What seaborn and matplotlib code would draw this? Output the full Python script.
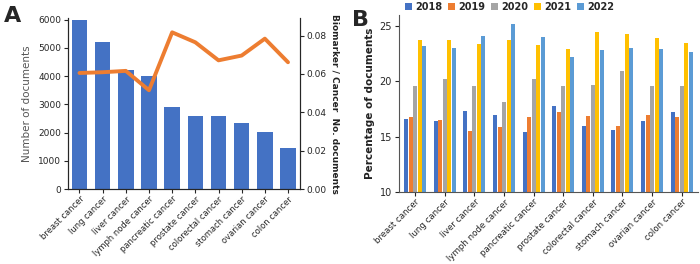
import matplotlib.pyplot as plt
import matplotlib
import seaborn as sns
import numpy as np
import pandas as pd

cancers = ['breast cancer', 'lung cancer', 'liver cancer', 'lymph node cancer',
           'pancreatic cancer', 'prostate cancer', 'colorectal cancer',
           'stomach cancer', 'ovarian cancer', 'colon cancer']
n_docs = [6000, 5200, 4220, 4020, 2900, 2570, 2570, 2330, 2020, 1460]
ratio = [0.0605, 0.0609, 0.0616, 0.0515, 0.0817, 0.0765, 0.0671, 0.0696, 0.0784, 0.0661]

years = ['2018', '2019', '2020', '2021', '2022']
pct_2018 = [16.6, 16.4, 17.3, 17.0, 15.4, 17.8, 16.0, 15.6, 16.4, 17.2]
pct_2019 = [16.8, 16.5, 15.5, 15.9, 16.8, 17.2, 16.9, 16.0, 17.0, 16.8]
pct_2020 = [19.6, 20.2, 19.6, 18.1, 20.2, 19.6, 19.7, 20.9, 19.6, 19.6]
pct_2021 = [23.7, 23.7, 23.4, 23.7, 23.3, 22.9, 24.5, 24.3, 23.9, 23.5]
pct_2022 = [23.2, 23.0, 24.1, 25.2, 24.0, 22.2, 22.8, 23.0, 22.9, 22.7]

sns.set_style('ticks')
matplotlib.rc('font', family=['DejaVu Sans'], size=6.5)

blue = '#4472C4'
orange = '#ED7D31'
year_colors = ['#4472C4', '#ED7D31', '#A5A5A5', '#FFC000', '#5B9BD5']

fig = plt.figure(figsize=[7, 2.64], dpi=100)

# ---- panel A
ax = fig.add_axes([0.097, 0.284, 0.331, 0.648])
sns.barplot(x=cancers, y=n_docs, color=blue, width=0.67, saturation=1,
            linewidth=0, ax=ax)
ax.set_ylim(0, 6060)
ax.set_yticks([0, 1000, 2000, 3000, 4000, 5000, 6000])
ax.set_ylabel('Number of documents', color='#555555', fontsize=7.5)
ax.tick_params(axis='x', rotation=45, labelsize=6, length=3, pad=1)
ax.tick_params(axis='y', labelsize=6.5, length=3, pad=2)
for lab in ax.get_xticklabels():
    lab.set_ha('right')
    lab.set_rotation_mode('anchor')
ax.set_xlim(-0.5, len(cancers) - 0.5)
sns.despine(ax=ax, right=False)

ax2 = ax.twinx()
sns.lineplot(x=np.arange(len(cancers)), y=ratio, color=orange, lw=2.8, ax=ax2)
ax2.set_ylim(0, 0.0892)
ax2.set_yticks([0, 0.02, 0.04, 0.06, 0.08])
ax2.set_yticklabels(['0.00', '0.02', '0.04', '0.06', '0.08'])
ax2.tick_params(axis='y', labelsize=6.5, length=3, pad=2)
ax2.set_ylabel('Biomarker / Cancer  No. documents', rotation=270, labelpad=9,
               fontsize=6.5, fontweight='bold', color='#222222')
ax2.spines['top'].set_visible(False)
fig.text(0.005, 0.915, 'A', fontsize=16, fontweight='bold')

# ---- panel B
df = pd.DataFrame({'cancer': cancers * 5,
                   'year': sum([[y] * len(cancers) for y in years], []),
                   'pct': pct_2018 + pct_2019 + pct_2020 + pct_2021 + pct_2022})
bx = fig.add_axes([0.57, 0.273, 0.427, 0.67])
sns.barplot(data=df, x='cancer', y='pct', hue='year', palette=year_colors,
            saturation=1, width=0.76, gap=0.12, linewidth=0, ax=bx)
bx.set_ylim(10, 26)
bx.set_yticks([10, 15, 20, 25])
bx.set_xlim(-0.55, len(cancers) - 0.45)
bx.set_xlabel('')
bx.set_ylabel('Percentage of documents', fontsize=7.5, fontweight='bold',
              color='#222222', labelpad=3)
bx.tick_params(axis='x', rotation=45, labelsize=6.2, length=3, pad=1)
bx.tick_params(axis='y', labelsize=7, length=3, pad=2)
for lab in bx.get_xticklabels():
    lab.set_ha('right')
    lab.set_rotation_mode('anchor')
for s in ['left', 'bottom']:
    bx.spines[s].set_color('#555555')
sns.despine(ax=bx)
bx.legend(ncol=5, loc='lower center', bbox_to_anchor=(0.37, 0.985), frameon=False,
          handlelength=0.7, handleheight=0.7, columnspacing=0.6, handletextpad=0.35,
          borderpad=0.1, prop={'weight': 'bold', 'size': 7})
fig.text(0.503, 0.9, 'B', fontsize=16, fontweight='bold')

plt.savefig('out.png', dpi=100)
plt.close(fig)
